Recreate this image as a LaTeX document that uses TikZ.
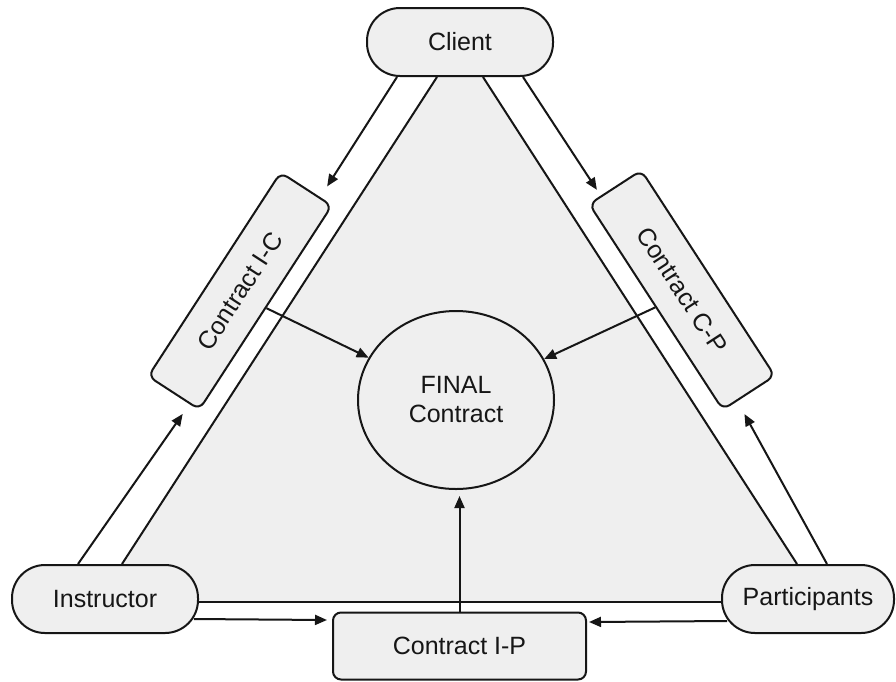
\documentclass[tikz,border=0pt]{standalone}
\usepackage{fontspec}
\setmainfont{Liberation Sans}
\usetikzlibrary{arrows.meta,calc,shapes.geometric,backgrounds}
\definecolor{panel}{HTML}{EFEFEF}
\definecolor{ink}{HTML}{161616}
\begin{document}
\begin{tikzpicture}[x=1pt,y=-1pt,
  every node/.style={font=\fontsize{25}{29}\selectfont, text=ink},
  party/.style={draw=ink, line width=2pt, fill=panel, rounded corners=33pt,
    minimum width=186pt, minimum height=68pt, inner sep=0pt},
  deal/.style={draw=ink, line width=2pt, fill=panel, rounded corners=8pt, inner sep=0pt},
  link/.style={draw=ink, line width=2pt},
  flow/.style={draw=ink, line width=2pt, -{Triangle[length=12pt,width=10pt]}},
]
\useasboundingbox (0,0) rectangle (896,681);

% parties
\node[party] (client) at (460,42) {Client};
\node[party] (instructor) at (105,599) {Instructor};
\node[party, minimum width=172pt] (participants) at (808,599) {Participants};

% contracts
\node[deal, minimum width=253pt, minimum height=67pt] (ip) at (459.5,646) {Contract I-P};
\node[deal, minimum width=243pt, minimum height=61pt, rotate=57] (ic) at (240,291) {Contract I-C};
\node[deal, minimum width=245pt, minimum height=62pt, rotate=-57] (cp) at (682,290) {Contract C-P};
\node[draw=ink, ellipse, line width=2pt, minimum width=196pt, minimum height=178pt,
  align=center, inner sep=0pt] (final) at (456,400) {FINAL\\Contract};

% shaded triangle behind everything
\begin{scope}[on background layer]
  \fill[white] (0,0) rectangle (896,681);
  \fill[panel] ($(client.south)+(-23,0)$) -- ($(client.south)+(23,0)$)
    -- ($(participants.north)+(-11,0)$) -- ($(participants.west)+(0,3)$)
    -- ($(instructor.east)+(0,3)$) -- ($(instructor.north)+(17,0)$) -- cycle;
\end{scope}

% triangle sides
\draw[link] ($(client.south)+(-23,0)$) -- ($(instructor.north)+(17,0)$);
\draw[link] ($(client.south)+(23,0)$) -- ($(participants.north)+(-11,0)$);
\draw[link] ($(instructor.east)+(0,3)$) -- ($(participants.west)+(0,3)$);

% parties feed the pairwise contracts
\draw[flow] ($(client.south)+(-63,0)$) -- ($(ic.south east)+(-6,-19)$);
\draw[flow] ($(instructor.north)+(-27,0)$) -- ($(ic.south west)+(-17,3)$);
\draw[flow] ($(client.south)+(63,0)$) -- ($(cp.south west)+(9,-14)$);
\draw[flow] ($(participants.north)+(19,0)$) -- ($(cp.south east)+(22,3)$);
\draw[flow] ($(instructor.east)+(-5,20)$) -- ($(ip.west)+(-5,-26)$);
\draw[flow] ($(participants.west)+(6,22)$) -- ($(ip.east)+(2,-24)$);

% pairwise contracts feed the final one
\draw[flow] (ic.south) -- (final);
\draw[flow] (cp.south) -- (final);
\draw[flow, shorten >=6pt] (ip.north) -- (ip.north |- final.south);
\end{tikzpicture}
\end{document}
